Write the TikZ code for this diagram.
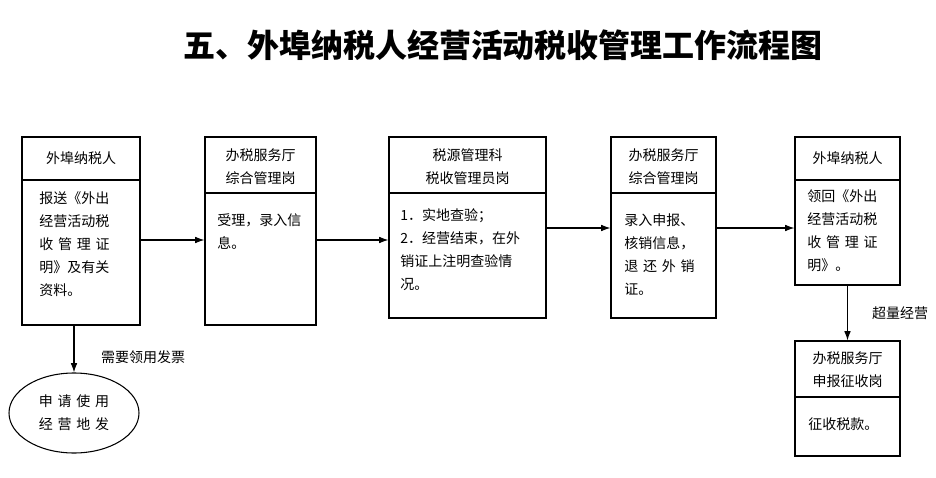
\documentclass[tikz,border=0pt]{standalone}
\usepackage{fontspec}
\setmainfont{Noto Sans CJK SC}
\usetikzlibrary{arrows.meta,calc,shapes.geometric}
\newcommand\gp{\hspace{3.6pt}}
\begin{document}
\begin{tikzpicture}[x=0.75pt,y=-0.75pt,
  box/.style={draw,line width=0.8pt,inner sep=0pt},
  txt/.style={anchor=north west,align=left,inner sep=0pt,font=\fontsize{10.5pt}{17.3pt}\selectfont},
  hd/.style={align=center,inner sep=0pt,font=\fontsize{10.5pt}{17.3pt}\selectfont},
  arr/.style={line width=0.8pt,-{Latex[length=7pt,width=5pt]}},
  lbl/.style={inner sep=0pt,font=\fontsize{10.5pt}{13pt}\selectfont}]
\useasboundingbox (0,0) rectangle (936,478);
\node[font=\fontsize{24pt}{28pt}\selectfont\bfseries] (title) at (503,45) {五、外埠纳税人经营活动税收管理工作流程图};
\node[box,minimum width={118*0.75pt},minimum height={188*0.75pt}] (b1) at (81,231) {};
\node[box,minimum width={111*0.75pt},minimum height={188*0.75pt}] (b2) at (260.5,231) {};
\node[box,minimum width={157*0.75pt},minimum height={181*0.75pt}] (b3) at (467.5,227.5) {};
\node[box,minimum width={105*0.75pt},minimum height={181*0.75pt}] (b4) at (663.5,227.5) {};
\node[box,minimum width={105*0.75pt},minimum height={148*0.75pt}] (b5) at (847.5,211) {};
\node[box,minimum width={105*0.75pt},minimum height={115*0.75pt}] (b6) at (847.5,398.5) {};
\node[draw,line width=0.8pt,ellipse,minimum width={130*0.75pt},minimum height={80*0.75pt},inner sep=0pt] (e1) at (74,413) {};
% dividers
\draw[line width=0.8pt] (b1.west |- 0,180) -- (b1.east |- 0,180);
\draw[line width=0.8pt] (b2.west |- 0,193) -- (b2.east |- 0,193);
\draw[line width=0.8pt] (b3.west |- 0,193) -- (b3.east |- 0,193);
\draw[line width=0.8pt] (b4.west |- 0,193) -- (b4.east |- 0,193);
\draw[line width=0.8pt] (b5.west |- 0,180) -- (b5.east |- 0,180);
\draw[line width=0.8pt] (b6.west |- 0,397) -- (b6.east |- 0,397);
% headers
\node[hd] (h1) at (81,158) {外埠纳税人};
\node[hd] (h2) at (260.5,167) {办税服务厅\\综合管理岗};
\node[hd] (h3) at (467.5,167) {税源管理科\\税收管理员岗};
\node[hd] (h4) at (663.5,167) {办税服务厅\\综合管理岗};
\node[hd] (h5) at (847.5,158) {外埠纳税人};
\node[hd] (h6) at (847.5,370) {办税服务厅\\申报征收岗};
% bodies
\node[txt] (t1) at (39,191) {报送《外出\\经营活动税\\收\gp 管\gp 理\gp 证\\明》及有关\\资料。};
\node[txt] (t2) at (217,213) {受理，录入信\\息。};
\node[txt] (t3) at (400,208) {1．实地查验；\\2．经营结束，在外\\销证上注明查验情\\况。};
\node[txt] (t4) at (624,213) {录入申报、\\核销信息，\\退\gp 还\gp 外\gp 销\\证。};
\node[txt] (t5) at (807,189) {领回《外出\\经营活动税\\收\gp 管\gp 理\gp 证\\明》。};
\node[txt] (t6) at (808,417) {征收税款。};
\node[hd] (te) at (74,413) {申\gp 请\gp 使\gp 用\\经\gp 营\gp 地\gp 发};
% arrows
\draw[arr] (b1.east |- 0,240) -- (b2.west |- 0,240);
\draw[arr] (b2.east |- 0,240) -- (b3.west |- 0,240);
\draw[arr] (b3.east |- 0,228) -- (b4.west |- 0,228);
\draw[arr] (b4.east |- 0,228) -- (b5.west |- 0,228);
\draw[arr] (b1.south -| e1.north) -- (e1.north);
\draw[arr] (b5.south) -- (b6.north);
\node[lbl] (l1) at (143,357) {需要领用发票};
\node[lbl] (l2) at (900,313) {超量经营};
\end{tikzpicture}
\end{document}
